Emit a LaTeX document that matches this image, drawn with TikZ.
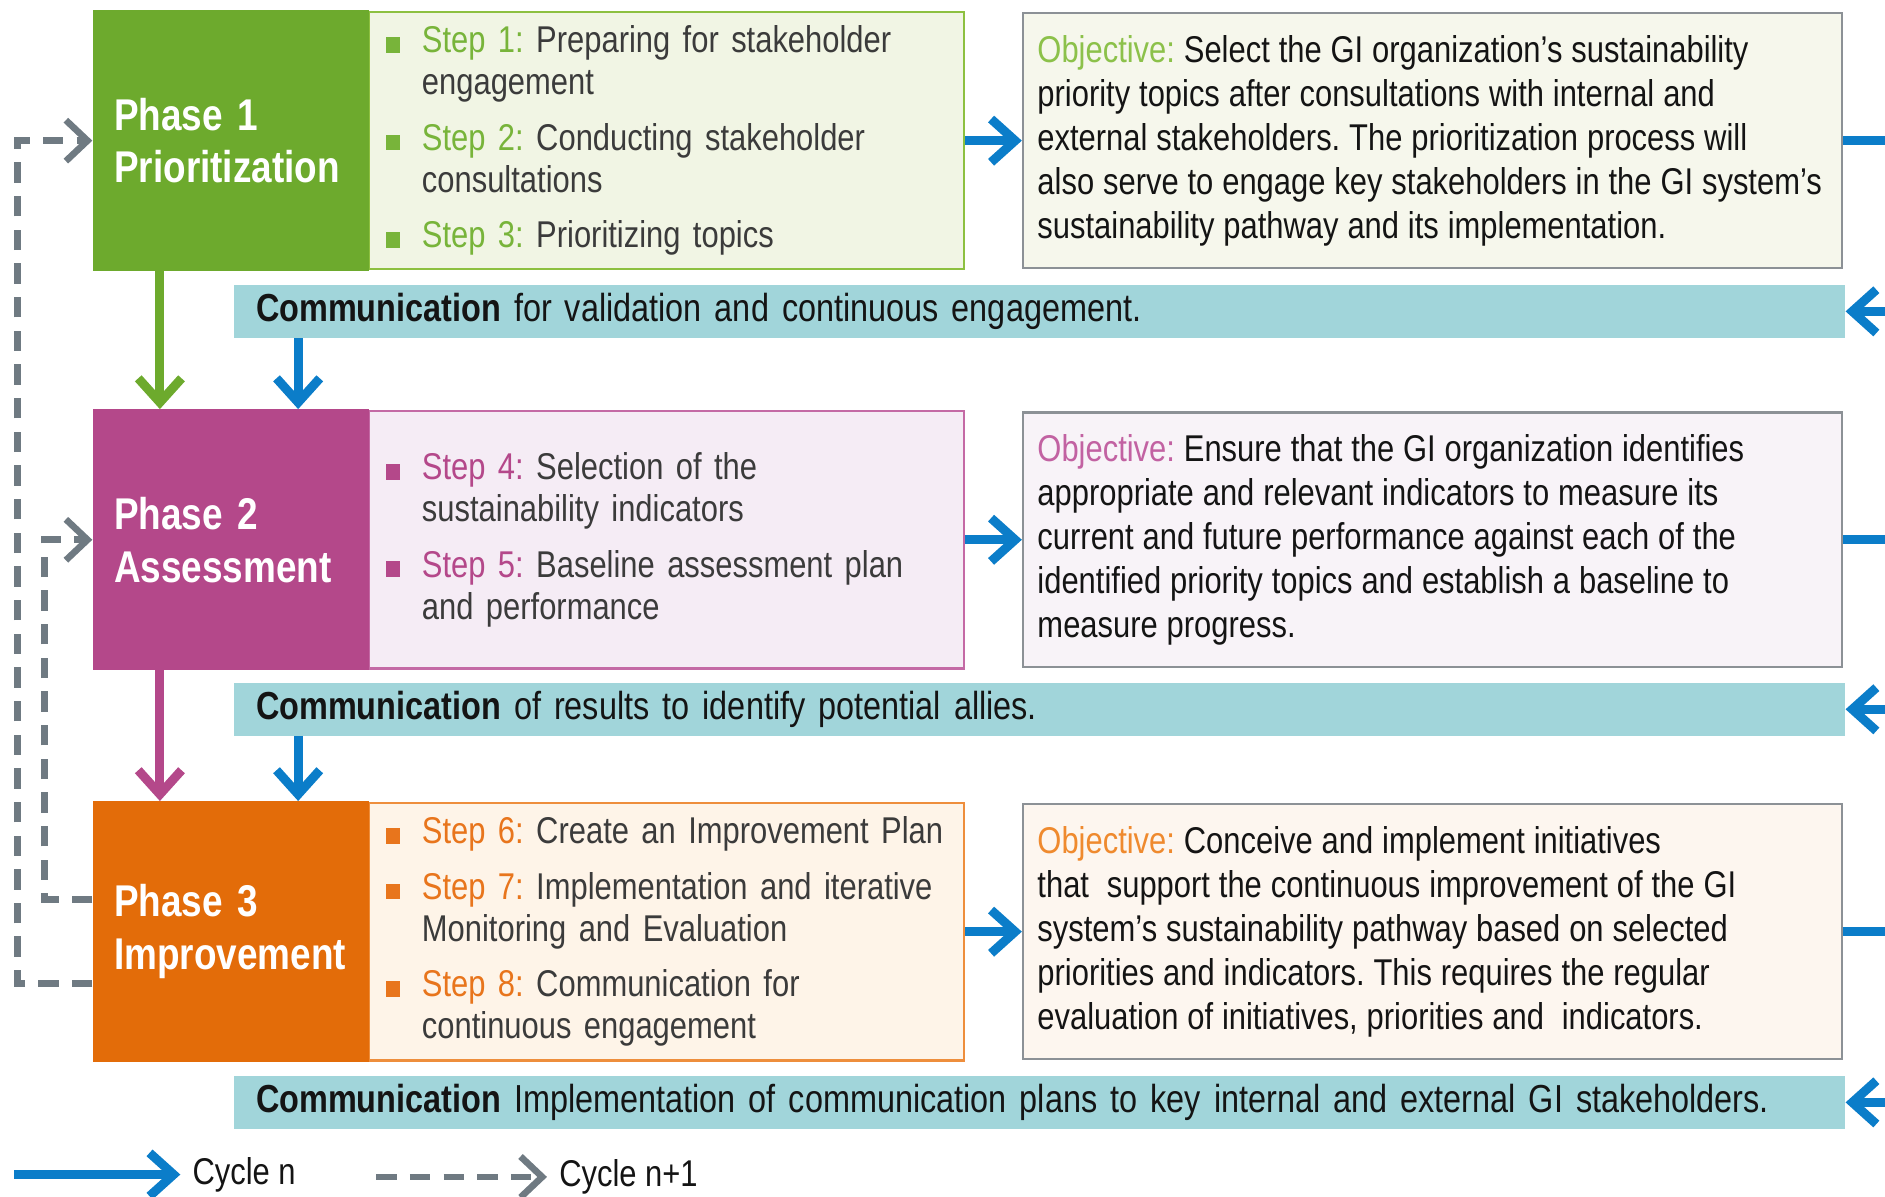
\documentclass[tikz,border=0pt]{standalone}
\usepackage{fontspec}
\setmainfont{Liberation Sans}[FakeStretch=0.83]
\usetikzlibrary{arrows.meta}
\frenchspacing
\hyphenpenalty=10000

% phase colours, step panels, objective panels
\definecolor{phgreen}{HTML}{6DAA2D}
\definecolor{phmagenta}{HTML}{B4488A}
\definecolor{phorange}{HTML}{E36C09}
\definecolor{stgreen}{HTML}{F1F5E4}
\definecolor{stmagenta}{HTML}{F5ECF5}
\definecolor{storange}{HTML}{FEF4E8}
\definecolor{slgreen}{HTML}{8DC040}
\definecolor{slmagenta}{HTML}{C46AA5}
\definecolor{slorange}{HTML}{EE8E3C}
\definecolor{lbgreen}{HTML}{78B43A}
\definecolor{lbmagenta}{HTML}{B4488A}
\definecolor{lborange}{HTML}{E8751C}
\definecolor{obgreen}{HTML}{8CC14A}
\definecolor{obmagenta}{HTML}{C262A2}
\definecolor{oborange}{HTML}{EF8A2E}
\definecolor{obfgreen}{HTML}{F6F7EC}
\definecolor{obfmagenta}{HTML}{F8F3F8}
\definecolor{obforange}{HTML}{FDF6EF}
\definecolor{objline}{HTML}{8C9196}
\definecolor{commteal}{HTML}{A1D5DA}
\definecolor{flowblue}{HTML}{0B7DC9}
\definecolor{cyclegrey}{HTML}{6F7A82}
\definecolor{txtgrey}{HTML}{3B3B3B}
\definecolor{txtdark}{HTML}{141414}

% square bullet + coloured step label
\newcommand{\stepitem}[3]{\textcolor{#1}{\rule{12pt}{13pt}}\hspace{18pt}\textcolor{#1}{#2} #3}
\newcommand{\stepcont}{\hspace*{30pt}}
% narrower word spaces for the objective text
\newcommand{\tightspace}{\spaceskip=7.4pt plus 2pt minus 1pt\relax\xspaceskip=7.4pt plus 2pt minus 1pt\relax}

\begin{document}
\begin{tikzpicture}[x=1pt,y=-1pt,
    phase/.style={minimum width=230pt, minimum height=217pt, text width=194pt, inner xsep=18pt,
        align=left, text=white, font=\fontsize{37}{44}\selectfont\bfseries},
    steps/.style={minimum height=214pt, text width=467pt, inner xsep=14pt, align=left,
        line width=2pt, text=txtgrey, font=\fontsize{31}{35}\selectfont},
    objbox/.style={minimum height=212pt, text width=657pt, inner xsep=12pt, align=left,
        draw=objline, line width=2pt, text=txtdark, font=\fontsize{31}{36.7}\selectfont,
        execute at begin node=\tightspace},
    commbar/.style={fill=commteal, minimum height=44pt, text width=1304pt, inner xsep=18pt,
        inner ysep=0pt, align=left, text=txtdark, font=\fontsize{32.5}{36}\selectfont},
    legend/.style={inner xsep=10pt, text=txtdark, font=\fontsize{31}{36}\selectfont},
    flow/.style={draw=flowblue, line width=7.5pt, -{Straight Barb[length=20pt,width=36pt]}},
    nextcycle/.style={draw=cyclegrey, line width=5.5pt, dash pattern=on 17pt off 11pt,
        -{Straight Barb[length=18pt,width=34pt]}},
]
    \useasboundingbox (0,0) rectangle (1568,995);

    % Step panels (drawn first, the phase blocks overlap their left edge)
    \node[steps, draw=slgreen, fill=stgreen] (st1) at (554.5,117) {\stepitem{lbgreen}{Step 1:}{Preparing for stakeholder}\\
        \stepcont engagement\\[11pt]
        \stepitem{lbgreen}{Step 2:}{Conducting stakeholder}\\
        \stepcont consultations\\[11pt]
        \stepitem{lbgreen}{Step 3:}{Prioritizing topics}};
    \node[steps, draw=slmagenta, fill=stmagenta] (st2) at (554.5,449) {\stepitem{lbmagenta}{Step 4:}{Selection of the}\\
        \stepcont sustainability indicators\\[11pt]
        \stepitem{lbmagenta}{Step 5:}{Baseline assessment plan}\\
        \stepcont and performance};
    \node[steps, draw=slorange, fill=storange] (st3) at (554.5,775) {\stepitem{lborange}{Step 6:}{Create an Improvement Plan}\\[11pt]
        \stepitem{lborange}{Step 7:}{Implementation and iterative}\\
        \stepcont Monitoring and Evaluation\\[11pt]
        \stepitem{lborange}{Step 8:}{Communication for}\\
        \stepcont continuous engagement};

    % Phase blocks
    \node[phase, fill=phgreen] (ph1) at (192,117) {Phase 1\\Prioritization};
    \node[phase, fill=phmagenta] (ph2) at (192,449) {Phase 2\\Assessment};
    \node[phase, fill=phorange] (ph3) at (192,775) {Phase 3\\Improvement};

    % Objectives
    \node[objbox, fill=obfgreen] (obj1) at (1191.5,117) {\textcolor{obgreen}{Objective:} Select the GI organization's sustainability\\
        priority topics after consultations with internal and\\
        external stakeholders. The prioritization process will\\
        also serve to engage key stakeholders in the GI system's\\
        sustainability pathway and its implementation.};
    \node[objbox, fill=obfmagenta] (obj2) at (1191.5,449) {\textcolor{obmagenta}{Objective:} Ensure that the GI organization identifies\\
        appropriate and relevant indicators to measure its\\
        current and future performance against each of the\\
        identified priority topics and establish a baseline to\\
        measure progress.};
    \node[objbox, fill=obforange] (obj3) at (1191.5,775) {\textcolor{oborange}{Objective:} Conceive and implement initiatives\\
        that\ \ support the continuous improvement of the GI\\
        system's sustainability pathway based on selected\\
        priorities and indicators. This requires the regular\\
        evaluation of initiatives, priorities and\ \ indicators.};

    % Communication bars
    \node[commbar] (com1) at (865,259) {\textbf{Communication} for validation and continuous engagement.};
    \node[commbar] (com2) at (865,590) {\textbf{Communication} of results to identify potential allies.};
    \node[commbar] (com3) at (865,917) {\textbf{Communication} Implementation of communication plans to key internal and external GI stakeholders.};

    % Cycle n: steps -> objective -> communication
    \foreach \i in {1,2,3} {
        \coordinate (exit\i) at ([xshift=50pt]obj\i.east);
        \coordinate (back\i) at ([xshift=50pt]com\i.east);
        \draw[flow] (st\i.east) -- (obj\i.west);
        \draw[flow, -] (obj\i.east) -- (exit\i);
        \draw[flow] (back\i) -- (com\i.east);
    }

    % Phase to phase
    \draw[flow, draw=phgreen] ([xshift=-59pt]ph1.south) -- ([xshift=-59pt]ph2.north);
    \draw[flow, draw=phmagenta] ([xshift=-59pt]ph2.south) -- ([xshift=-59pt]ph3.north);
    \path ([xshift=56pt]ph2.north) coordinate (in2) ([xshift=56pt]ph3.north) coordinate (in3);
    \draw[flow] (com1.south -| in2) -- (in2);
    \draw[flow] (com2.south -| in3) -- (in3);

    % Cycle n+1 returns
    \draw[nextcycle] ([yshift=-43pt]ph3.west) -| ([xshift=-62pt]ph1.west) -- (ph1.west);
    \draw[nextcycle] ([yshift=27pt]ph3.west) -| ([xshift=-40pt]ph2.west) -- (ph2.west);

    % Legend
    \coordinate (keyA) at (12,977);
    \node[legend, anchor=west] (keyn) at (150,977) {Cycle n};
    \draw[flow] (keyA) -- (keyn.west);
    \coordinate (keyB) at (313,979);
    \node[legend, anchor=west] (keynn) at (455,979) {Cycle n+1};
    \draw[nextcycle] (keyB) -- (keynn.west);
\end{tikzpicture}
\end{document}
